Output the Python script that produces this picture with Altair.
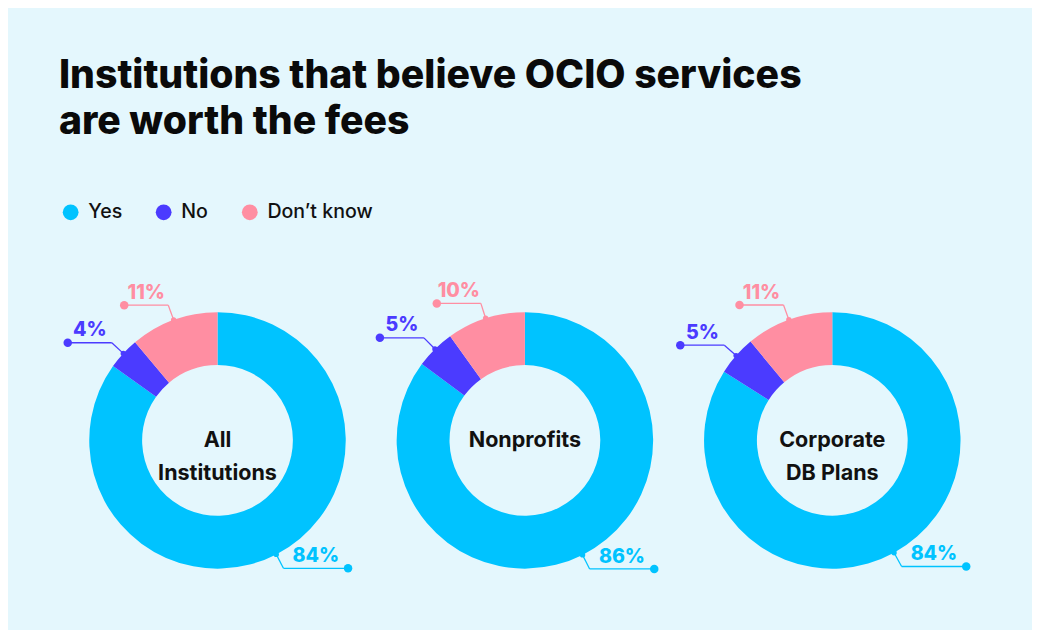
import altair as alt
import pandas as pd

groups = ["All Institutions", "Nonprofits", "Corporate DB Plans"]
center_labels = ["All\nInstitutions", "Nonprofits", "Corporate\nDB Plans"]
categories = ["Yes", "No", "Don’t know"]
yes_vals = [84, 86, 84]
no_vals = [4, 5, 5]
dk_vals = [11, 10, 11]
colors = ["#00c3ff", "#4b3bff", "#ff8ea2"]

rows = []
for gi, g in enumerate(groups):
    for ci, (cat, vals) in enumerate(zip(categories, [yes_vals, no_vals, dk_vals])):
        rows.append({"group": g, "label": center_labels[gi], "category": cat,
                     "order": ci, "value": vals[gi]})
df = pd.DataFrame(rows)

FONT = "Inter"
xs = alt.Scale(domain=[-150, 150], nice=False, zero=False)
ys = alt.Scale(domain=[-160, 160], nice=False, zero=False)
color = alt.Color(
    "category:N",
    scale=alt.Scale(domain=categories, range=colors),
    legend=alt.Legend(
        orient="none", legendX=-10, legendY=-83, direction="horizontal",
        title=None, symbolType="circle", symbolSize=260, symbolStrokeWidth=0,
        labelFontSize=20, labelFont=FONT, labelFontWeight=500, labelColor="#111111",
        columnPadding=32, labelOffset=8,
    ),
)
color_nl = alt.Color("category:N", scale=alt.Scale(domain=categories, range=colors), legend=None)

base = alt.Chart(df).transform_stack(
    stack="value", groupby=["group"], as_=["s0", "s1"], offset="normalize",
    sort=[alt.SortField("order", order="ascending")],
).transform_calculate(
    mid="(datum.s0 + datum.s1) * PI",
).transform_calculate(
    sx="sin(datum.mid) * 131",
    sy="cos(datum.mid) * 131",
    ex="sin(datum.mid) * 147",
    ey="cos(datum.mid) * 147",
).transform_calculate(
    hx="datum.ex + (datum.ex < 0 ? -45 : 66)",
    pct="format(datum.value, 'd') + '%'",
).transform_calculate(
    lx="(datum.ex + datum.hx) / 2",
    ly="datum.ey + 6.5",
)

arcs = base.mark_arc(radius=131, radius2=77).encode(
    x=alt.XDatum(0, scale=xs, axis=None),
    y=alt.YDatum(0, scale=ys, axis=None),
    theta=alt.Theta("s0:Q", scale=alt.Scale(domain=[0, 1], range=[0, 6.283185307])),
    theta2="s1:Q",
    color=color,
)

lead1 = base.mark_rule(strokeWidth=1.3).encode(
    x=alt.X("sx:Q", scale=xs, axis=None), y=alt.Y("sy:Q", scale=ys, axis=None),
    x2="ex:Q", y2="ey:Q", color=color_nl,
)
lead2 = base.mark_rule(strokeWidth=1.3).encode(
    x=alt.X("ex:Q", scale=xs, axis=None), y=alt.Y("ey:Q", scale=ys, axis=None),
    x2="hx:Q", y2="ey:Q", color=color_nl,
)
dot1 = base.mark_circle(size=30, opacity=1).encode(
    x=alt.X("sx:Q", scale=xs, axis=None), y=alt.Y("sy:Q", scale=ys, axis=None), color=color_nl,
)
dot2 = base.mark_circle(size=75, opacity=1).encode(
    x=alt.X("hx:Q", scale=xs, axis=None), y=alt.Y("ey:Q", scale=ys, axis=None), color=color_nl,
)
pct_text = base.mark_text(font=FONT, fontSize=20, fontWeight=800, align="center",
                          baseline="alphabetic").encode(
    x=alt.X("lx:Q", scale=xs, axis=None), y=alt.Y("ly:Q", scale=ys, axis=None),
    text="pct:N", color=color_nl,
)
center = base.transform_filter(alt.datum.order == 0).mark_text(
    font=FONT, fontSize=22, fontWeight=700, align="center", baseline="middle",
    lineBreak="\n", lineHeight=33, color="#111111",
).encode(
    x=alt.XDatum(0, scale=xs, axis=None),
    y=alt.YDatum(0, scale=ys, axis=None),
    text="label:N",
)

layered = alt.layer(arcs, lead1, lead2, dot1, dot2, pct_text, center).properties(
    width=300, height=320, view=alt.ViewBackground(stroke="transparent", strokeWidth=0)
)

chart = layered.facet(
    column=alt.Column("group:N", sort=groups, title=None,
                      header=alt.Header(labels=False, title=None)),
    spacing=4,
).properties(
    title=alt.Title(
        ["Institutions that believe OCIO services", "are worth the fees"],
        anchor="start", fontSize=40, font=FONT, fontWeight=800, color="#0a0a0a",
        lineHeight=47, offset=62, dx=-2,
    ),
    background="#e4f7fd",
    padding={"left": 52, "top": 43, "right": 54, "bottom": 27},
).configure_view(stroke="transparent", strokeWidth=0).configure(
    font=FONT, style={"cell": {"stroke": "transparent"}}
)

chart.save("out.html", embed_options={"renderer": "svg", "actions": False})
